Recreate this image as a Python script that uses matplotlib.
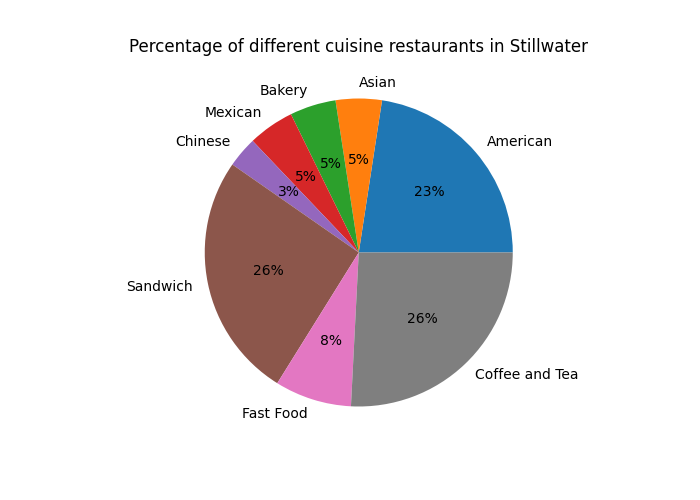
import matplotlib
matplotlib.use("Agg")
import matplotlib.pyplot as plt

# restaurant counts per cuisine
cuisines = ["American", "Asian", "Bakery", "Mexican", "Chinese",
            "Sandwich", "Fast Food", "Coffee and Tea"]
counts = [14, 3, 3, 3, 2, 16, 5, 16]

fig = plt.figure(figsize=(7, 5), dpi=100)
plt.pie(counts, labels=cuisines, autopct="%1.0f%%")
plt.title("Percentage of different cuisine restaurants in Stillwater")
plt.savefig("out.png")
